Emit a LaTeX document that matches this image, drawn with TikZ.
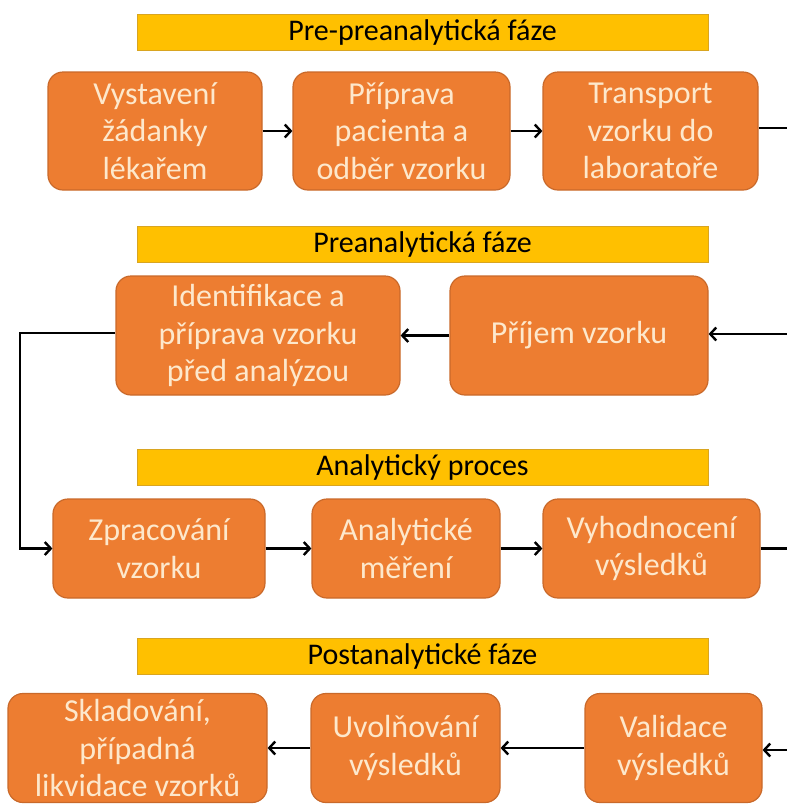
\documentclass[tikz,border=0pt]{standalone}
\usepackage{fontspec}
\setmainfont{Carlito}
\usetikzlibrary{arrows.meta}
\definecolor{boxfill}{HTML}{ED7D31}
\definecolor{boxedge}{HTML}{C9692A}
\definecolor{boxtext}{HTML}{FDE8CC}
\definecolor{bannerfill}{HTML}{FFC000}
\definecolor{banneredge}{HTML}{D9A520}
\begin{document}
\begin{tikzpicture}[x=1pt,y=-1pt,
  stepbox/.style={draw=boxedge, line width=1.2pt, fill=boxfill, rounded corners=15pt,
    text=boxtext, align=center, inner sep=0pt,
    font=\fontsize{32}{37.5}\selectfont},
  banner/.style={draw=banneredge, line width=1pt, fill=bannerfill, text=black,
    minimum width=571pt, minimum height=36pt, inner sep=0pt,
    font=\fontsize{30}{32}\selectfont},
  flow/.style={line width=2.4pt, -{Straight Barb[length=6pt,width=13pt,line width=2.4pt]}},
  plain/.style={line width=2.4pt}]
\useasboundingbox (0,0) rectangle (787,807);

% phase headers
\node[banner] (b1) at (422.5,32) {Pre-preanalytická fáze};
\node[banner] (b2) at (422.5,244.5) {Preanalytická fáze};
\node[banner] (b3) at (422.5,467.5) {Analytický proces};
\node[banner] (b4) at (422.5,656.5) {Postanalytické fáze};

% row 1
\node[stepbox, minimum width=214pt, minimum height=118pt] (s1) at (155,131)
  {Vystavení\\žádanky\\lékařem};
\node[stepbox, minimum width=217pt, minimum height=118pt] (s2) at (401.5,131)
  {Příprava\\pacienta a\\odběr vzorku};
\node[stepbox, minimum width=215pt, minimum height=118pt] (s3) at (650.5,131)
  {Transport\\vzorku do\\laboratoře};

% row 2
\node[stepbox, minimum width=284pt, minimum height=119pt] (s5) at (258,335.5)
  {Identifikace a\\příprava vzorku\\před analýzou};
\node[stepbox, minimum width=258pt, minimum height=119pt] (s4) at (579,335.5)
  {Příjem vzorku};

% row 3
\node[stepbox, minimum width=212pt, minimum height=99pt] (s6) at (159,548.5)
  {Zpracování\\vzorku};
\node[stepbox, minimum width=188pt, minimum height=99pt] (s7) at (406,548.5)
  {Analytické\\měření};
\node[stepbox, minimum width=217pt, minimum height=99pt] (s8) at (651.5,548.5)
  {Vyhodnocení\\výsledků};

% row 4
\node[stepbox, minimum width=259pt, minimum height=109pt] (s11) at (137.5,748)
  {Skladování,\\případná\\likvidace vzorků};
\node[stepbox, minimum width=189pt, minimum height=109pt] (s10) at (405.5,748)
  {Uvolňování\\výsledků};
\node[stepbox, minimum width=177pt, minimum height=109pt] (s9) at (673.5,748)
  {Validace\\výsledků};

% free ends at the right border and the left return path
\coordinate (e1) at (787,128);
\coordinate (e2) at (787,334);
\coordinate (e3) at (787,548.5);
\coordinate (e4) at (787,750);
\coordinate (k1) at (20,333);
\coordinate (k2) at (20,548.5);

% connectors
\draw[flow] (s1) -- (s2);
\draw[flow] (s2) -- (s3);
\draw[plain] (s3.east |- e1) -- (e1);
\draw[flow] (e2) -- (s4.east |- e2);
\draw[flow] (s4) -- (s5);
\draw[flow] (s5.west |- k1) -- (k1) -- (k2) -- (s6.west);
\draw[flow] (s6) -- (s7);
\draw[flow] (s7) -- (s8);
\draw[plain] (s8.east) -- (e3);
\draw[flow] (e4) -- (s9.east |- e4);
\draw[flow] (s9) -- (s10);
\draw[flow] (s10) -- (s11);
\end{tikzpicture}
\end{document}
